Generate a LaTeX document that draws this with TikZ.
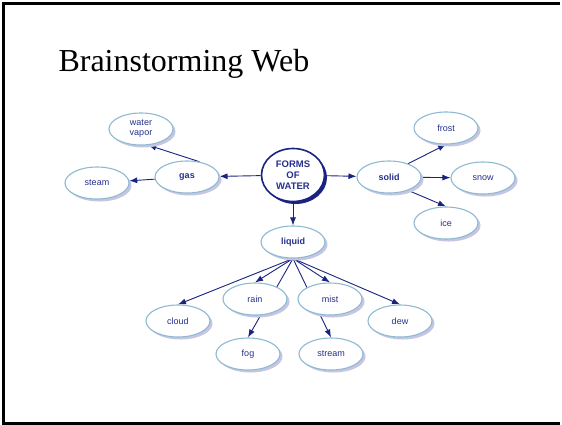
\documentclass[tikz,border=0pt]{standalone}
\usepackage{fontspec}
\setmainfont{Liberation Serif}
\setsansfont{Liberation Sans}
\usetikzlibrary{shapes.geometric,arrows.meta,shadows,backgrounds}
\definecolor{navyc}{HTML}{1A2480}
\definecolor{txtc}{HTML}{26308C}
\definecolor{bordc}{HTML}{8EBAD2}
\definecolor{shadc}{HTML}{C6C6E2}
\tikzset{
  bub/.style={ellipse, draw=bordc, line width=1.1pt, fill=white,
    minimum width=64pt, minimum height=32pt, inner sep=0pt,
    font=\sffamily\fontsize{9}{10}\selectfont, text=txtc, align=center,
    drop shadow={shadow xshift=2.5pt, shadow yshift=-2.5pt, fill=shadc, opacity=1}},
  bbub/.style={bub, font=\sffamily\bfseries\fontsize{9}{10}\selectfont},
  mainbub/.style={ellipse, draw=navyc, line width=1.6pt, fill=white,
    minimum width=63pt, minimum height=53pt, inner sep=0pt,
    font=\sffamily\bfseries\fontsize{9.5}{11}\selectfont, text=txtc, align=center,
    drop shadow={shadow xshift=2.5pt, shadow yshift=-2.5pt, fill=navyc, opacity=1}},
  arr/.style={-{Latex[length=8pt,width=6pt]}, draw=navyc, line width=0.9pt},
}
\begin{document}
\begin{tikzpicture}[x=1pt,y=-1pt]
\useasboundingbox (0,0) rectangle (562,424);
\begin{pgfonlayer}{background}
\fill[white] (0,0) rectangle (562,424);
\end{pgfonlayer}
\draw[line width=3pt] (559.5,3) -- (3,3) -- (3,423) -- (559.5,423);
\node[anchor=base west, font=\fontsize{32}{36}\selectfont] (title) at (55,71) {Brainstorming Web};

\node[mainbub] (forms) at (293,175) {FORMS\\OF\\WATER};
\node[bbub] (gas) at (187,177) {gas};
\node[bub] (vapor) at (141,129) {water\\vapor};
\node[bub] (steam) at (97,183) {steam};
\node[bbub] (solid) at (389,177) {solid};
\node[bub] (frost) at (446,128) {frost};
\node[bub] (snow) at (483,178) {snow};
\node[bub] (ice) at (446,223) {ice};
\node[bbub] (liquid) at (293,242) {liquid};
\node[bub] (rain) at (255,299) {rain};
\node[bub] (mist) at (330,299) {mist};
\node[bub] (cloud) at (178,321) {cloud};
\node[bub] (dew) at (400,321) {dew};
\node[bub] (fog) at (248,354) {fog};
\node[bub] (stream) at (331,354) {stream};

\begin{pgfonlayer}{background}
\draw[arr] (forms) -- (gas);
\draw[arr] (forms) -- (solid);
\draw[arr] (forms) -- (liquid);
\draw[arr] (gas.51) -- (vapor.-66);
\draw[arr] (gas) -- (steam);
\draw[arr] (solid.35) -- (frost.south);
\draw[arr] (solid) -- (snow);
\draw[arr] (solid.-35) -- (ice.north);
\draw[arr] (liquid.south) -- (cloud.north);
\draw[arr] (liquid.south) -- (rain.north);
\draw[arr] (liquid.south) -- (fog.north);
\draw[arr] (liquid.south) -- (mist.north);
\draw[arr] (liquid.south) -- (stream.north);
\draw[arr] (liquid.south) -- (dew.north);
\end{pgfonlayer}
\end{tikzpicture}
\end{document}
